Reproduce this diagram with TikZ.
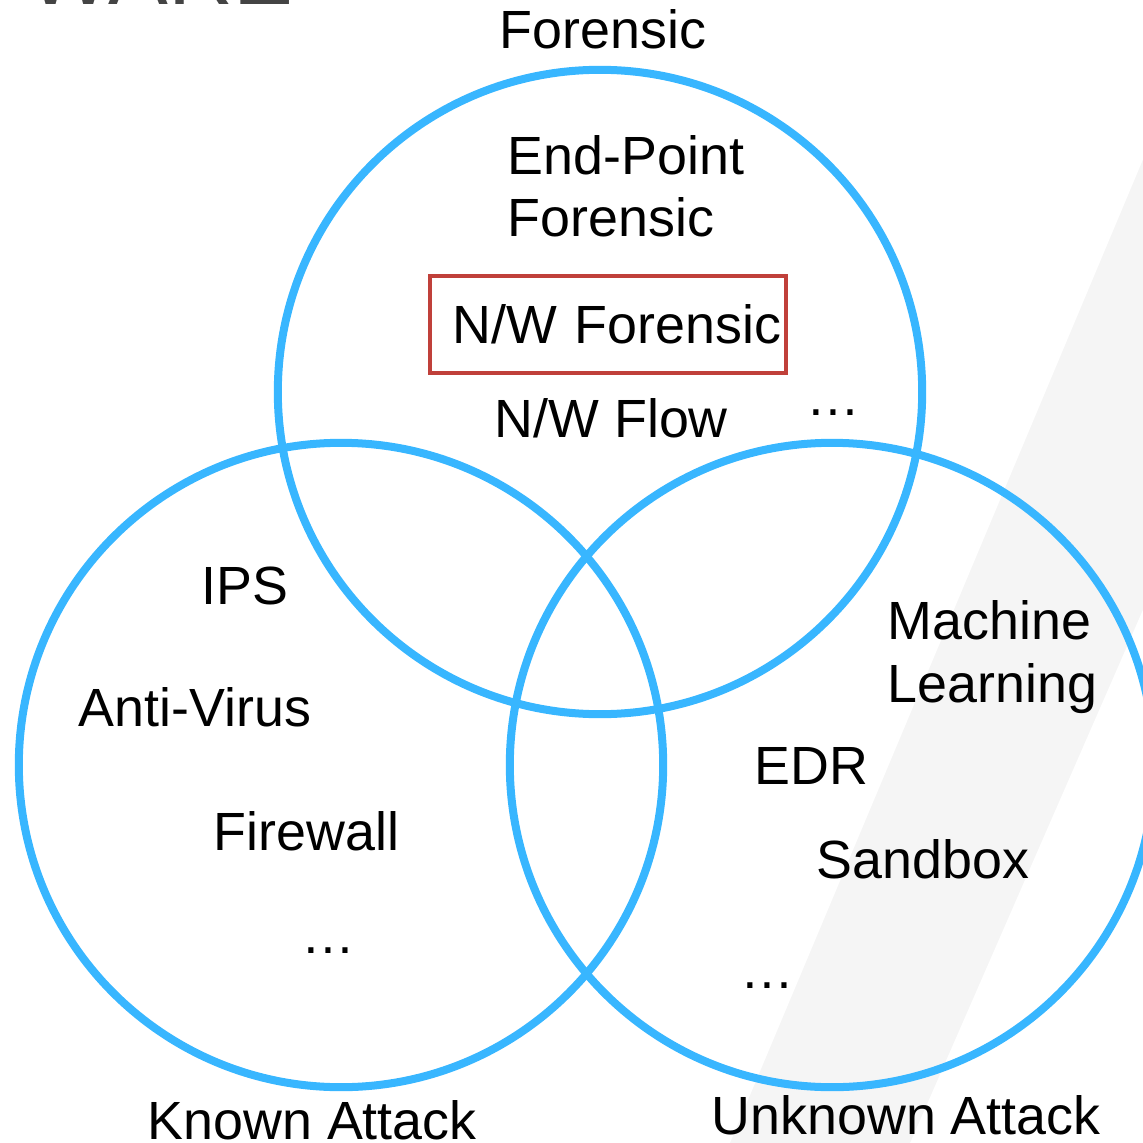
\documentclass[tikz,border=0pt]{standalone}
\usepackage{fontspec}
\setmainfont{Liberation Sans}
\usetikzlibrary{positioning}

\definecolor{vennblue}{RGB}{56,182,255}
\definecolor{boxred}{RGB}{192,64,58}
\definecolor{titlegray}{RGB}{68,68,68}
\definecolor{bandgray}{RGB}{245,245,245}

\begin{document}
\begin{tikzpicture}[
		x=0.01cm, y=-0.01cm,
		every node/.style={font=\fontsize{15.3}{17.9}\selectfont, inner sep=0pt},
		lbl/.style={anchor=base west, align=left},
		set/.style={
			circle,
			draw=vennblue,
			line width=0.08cm,
			minimum size=6.44cm
		},
		hilite/.style={
			rectangle,
			draw=boxred,
			line width=0.035cm,
			text width=3.46cm,
			align=right,
			inner xsep=0.05cm,
			minimum height=0.97cm
		}
		]
		
		\useasboundingbox (0,0) rectangle (1143,1143);
		\clip (0,0) rectangle (1143,1143);
		
		% Background stripe and cut-off heading
		\fill[bandgray] (1210,0) -- (730,1143) -- (910,1143) -- (1300,250) -- cycle;
		\node[anchor=base east, font=\fontsize{25.5}{30}\selectfont, text=titlegray] (title) at (294,5) {WARE};
		
		% Circles
		\node[set] (forensic) at (600,392) {};
		\node[set] (known) at (341,765) {};
		\node[set] (unknown) at (832,765) {};
		
		% Set names
		\node[lbl] (forensicname) at (499,49) {Forensic};
		\node[lbl] (knownname) at (147,1139) {Known Attack};
		\node[lbl] (unknownname) at (711,1134) {Unknown Attack};
		
		% Forensic items (base = last line)
		\node[lbl] (endpoint) at (507,237) {End-Point\\Forensic};
		\node[hilite] (nwforensic) at (608,324.5) {N/W Forensic};
		\node[lbl] (nwflow) at (494,437) {N/W Flow};
		\node[lbl] (moreforensic) at (806,415) {…};
		
		% Known attack items
		\node[lbl] (ips) at (201,604) {IPS};
		\node[lbl] (antivirus) at (78,726) {Anti-Virus};
		\node[lbl] (firewall) at (213,850) {Firewall};
		\node[lbl] (moreknown) at (301,953) {…};
		
		% Unknown attack items
		\node[lbl] (ml) at (887,702) {Machine\\Learning};
		\node[lbl] (edr) at (754,784) {EDR};
		\node[lbl] (sandbox) at (816,878) {Sandbox};
		\node[lbl] (moreunknown) at (740,988) {…};
		
	\end{tikzpicture}
\end{document}
